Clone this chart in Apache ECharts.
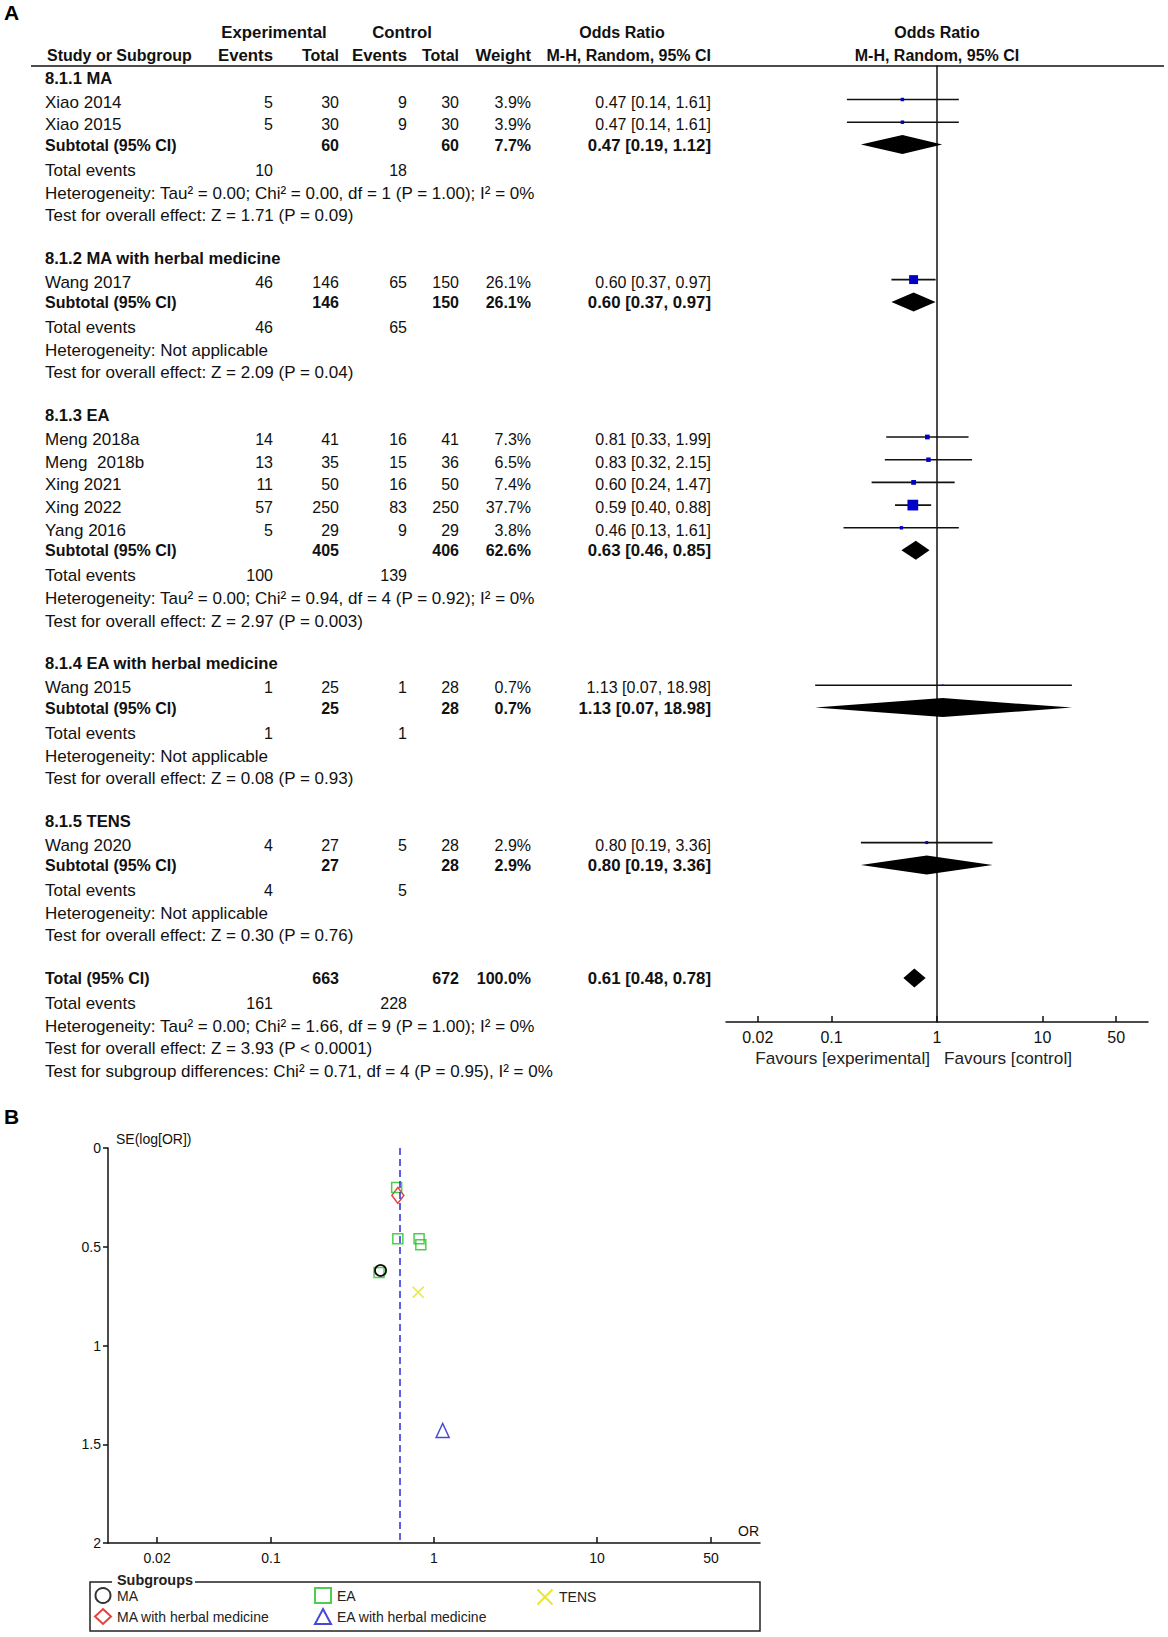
<!DOCTYPE html>
<html>
<head>
<meta charset="utf-8">
<script src="https://cdn.jsdelivr.net/npm/echarts@6/dist/echarts.min.js"></script>
<style>
html, body { margin: 0; padding: 0; background: #fff; }
#main { width: 1168px; height: 1637px; }
</style>
</head>
<body>
<div id="main"></div>
<script>
// ---- studies ----
const studyNames = ['Xiao 2014', 'Xiao 2015', 'Wang 2017', 'Meng 2018a', 'Meng  2018b', 'Xing 2021', 'Xing 2022', 'Yang 2016', 'Wang 2015', 'Wang 2020']
const studyGroup = [0, 0, 1, 2, 2, 2, 2, 2, 3, 4]
const expEvents = [5, 5, 46, 14, 13, 11, 57, 5, 1, 4]
const expTotal = [30, 30, 146, 41, 35, 50, 250, 29, 25, 27]
const ctlEvents = [9, 9, 65, 16, 15, 16, 83, 9, 1, 5]
const ctlTotal = [30, 30, 150, 41, 36, 50, 250, 29, 28, 28]
const studyWeight = [3.9, 3.9, 26.1, 7.3, 6.5, 7.4, 37.7, 3.8, 0.7, 2.9]
const studyOR = [0.47, 0.47, 0.60, 0.81, 0.83, 0.60, 0.59, 0.46, 1.13, 0.80]
const studyLow = [0.14, 0.14, 0.37, 0.33, 0.32, 0.24, 0.40, 0.13, 0.07, 0.19]
const studyHigh = [1.61, 1.61, 0.97, 1.99, 2.15, 1.47, 0.88, 1.61, 18.98, 3.36]
// SE(log[OR])
const studySE = [0.62, 0.62, 0.24, 0.46, 0.49, 0.46, 0.20, 0.63, 1.43, 0.73]

// ---- subgroups ----
const subgroupCodes = ['8.1.1', '8.1.2', '8.1.3', '8.1.4', '8.1.5']
const subgroupNames = ['MA', 'MA with herbal medicine', 'EA', 'EA with herbal medicine', 'TENS']
const subExpTotal = [60, 146, 405, 25, 27]
const subCtlTotal = [60, 150, 406, 28, 28]
const subExpEvents = [10, 46, 100, 1, 4]
const subCtlEvents = [18, 65, 139, 1, 5]
const subWeight = [7.7, 26.1, 62.6, 0.7, 2.9]
const subOR = [0.47, 0.60, 0.63, 1.13, 0.80]
const subLow = [0.19, 0.37, 0.46, 0.07, 0.19]
const subHigh = [1.12, 0.97, 0.85, 18.98, 3.36]
const subHet = [
	'Heterogeneity: Tau\u00b2 = 0.00; Chi\u00b2 = 0.00, df = 1 (P = 1.00); I\u00b2 = 0%',
	'Heterogeneity: Not applicable',
	'Heterogeneity: Tau\u00b2 = 0.00; Chi\u00b2 = 0.94, df = 4 (P = 0.92); I\u00b2 = 0%',
	'Heterogeneity: Not applicable',
	'Heterogeneity: Not applicable',
]
const subTest = [
	'Test for overall effect: Z = 1.71 (P = 0.09)',
	'Test for overall effect: Z = 2.09 (P = 0.04)',
	'Test for overall effect: Z = 2.97 (P = 0.003)',
	'Test for overall effect: Z = 0.08 (P = 0.93)',
	'Test for overall effect: Z = 0.30 (P = 0.76)',
]

// ---- overall ----
const totalExp = 663
const totalCtl = 672
const totalExpEvents = 161
const totalCtlEvents = 228
const totalOR = [0.61, 0.48, 0.78]
const totalNotes = [
	'Heterogeneity: Tau\u00b2 = 0.00; Chi\u00b2 = 1.66, df = 9 (P = 1.00); I\u00b2 = 0%',
	'Test for overall effect: Z = 3.93 (P < 0.0001)',
	'Test for subgroup differences: Chi\u00b2 = 0.71, df = 4 (P = 0.95), I\u00b2 = 0%',
]

// ---- axes ----
const orTicks = [0.02, 0.1, 1, 10, 50]

const subgroupSymbols = ['circle', 'diamond', 'rect', 'triangle', 'path://M0,0L10,10M10,0L0,10']
const subgroupColors = ['#000000', '#dd1111', '#22c022', '#1a1acc', '#e2e200']
const subgroupSizes = [11, [12, 16], 10, [13, 14], 11]

const FONT = '"Liberation Sans", Arial, sans-serif'
const TEXT = '#111'
const lg = v => Math.log10(v)
const fmtCI = (e, l, h) => e.toFixed(2) + ' [' + l.toFixed(2) + ', ' + h.toFixed(2) + ']'

/**
 * 行布局：pos 为每行文字中心的纵向位置（森林图 y 轴刻度）
 * 行距不是完全均匀的，按 RevMan 的排版给出每种行之间的间隔
 */
const STEP = { headStudy: 24, study: 22.7, studySub: 20.4, subEvents: 25.1, eventsNote: 23, note: 22.3, group: 42.6 }
const rows = []
let pos = 78
rows.push({ pos: 32.5, kind: 'hdr1' })
rows.push({ pos: 55.5, kind: 'hdr2' })
subgroupCodes.forEach((code, g) => {
	rows.push({ pos: pos, kind: 'head', label: code + ' ' + subgroupNames[g] })
	pos += STEP.headStudy
	let first = true
	studyGroup.forEach((sg, i) => {
		if (sg !== g) return
		if (!first) pos += STEP.study
		first = false
		rows.push({ pos: pos, kind: 'study', i })
	})
	pos += STEP.studySub
	rows.push({ pos: pos, kind: 'sub', g })
	pos += STEP.subEvents
	rows.push({ pos: pos, kind: 'events', exp: subExpEvents[g], ctl: subCtlEvents[g] })
	pos += STEP.eventsNote
	rows.push({ pos: pos, kind: 'note', label: subHet[g] })
	pos += STEP.note
	rows.push({ pos: pos, kind: 'note', label: subTest[g] })
	pos += STEP.group
})
rows.push({ pos: pos, kind: 'total' })
pos += STEP.subEvents
rows.push({ pos: pos, kind: 'events', exp: totalExpEvents, ctl: totalCtlEvents })
totalNotes.forEach((n, k) => {
	pos += k === 0 ? STEP.eventsNote : STEP.note
	rows.push({ pos: pos, kind: 'note', label: n })
})

// 列位置（右对齐）
const COL = { name: 45, expEv: 273, expTot: 339, ctlEv: 407, ctlTot: 459, weight: 531, or: 711 }

function renderRow(params, api) {
	const r = rows[params.dataIndex]
	const ty = api.coord([0, r.pos])[1]
	const kids = []
	const txt = (s, x, align, font) => kids.push({
		type: 'text',
		style: {
			text: String(s), x: x, y: ty, align: align, verticalAlign: 'middle',
			font: font + ' ' + FONT, fill: TEXT,
		},
	})
	const LBL = '17px', NUM = '16px', BLD = 'bold 16px', BLDW = 'bold 16.8px'
	const ciLine = (lo, hi, y) => {
		const a = api.coord([lg(lo), r.pos])[0]
		const b = api.coord([lg(hi), r.pos])[0]
		kids.push({ type: 'line', shape: { x1: a, y1: y, x2: b, y2: y }, style: { stroke: '#111', lineWidth: 1.6 } })
	}
	const diamond = (e, lo, hi) => {
		const y = ty - 0.5
		const pe = api.coord([lg(e), r.pos])[0]
		const pl = api.coord([lg(lo), r.pos])[0]
		const ph = api.coord([lg(hi), r.pos])[0]
		kids.push({ type: 'polygon', shape: { points: [[pl, y], [pe, y - 9.5], [ph, y], [pe, y + 9.5]] }, style: { fill: '#000' } })
	}
	const zeroX = api.coord([0, r.pos])[0]

	switch (r.kind) {
		case 'hdr1':
			txt('Experimental', 274, 'center', BLDW)
			txt('Control', 402, 'center', BLDW)
			txt('Odds Ratio', 622, 'center', BLD)
			txt('Odds Ratio', zeroX, 'center', BLD)
			break
		case 'hdr2':
			txt('Study or Subgroup', 47, 'left', BLD)
			txt('Events', COL.expEv, 'right', BLDW)
			txt('Total', COL.expTot, 'right', BLD)
			txt('Events', COL.ctlEv, 'right', BLDW)
			txt('Total', COL.ctlTot, 'right', BLD)
			txt('Weight', COL.weight, 'right', BLDW)
			txt('M-H, Random, 95% CI', COL.or, 'right', BLD)
			txt('M-H, Random, 95% CI', zeroX, 'center', BLD)
			break
		case 'head':
			txt(r.label, COL.name, 'left', 'bold 16.6px')
			break
		case 'study': {
			const i = r.i
			txt(studyNames[i], COL.name, 'left', LBL)
			txt(expEvents[i], COL.expEv, 'right', NUM)
			txt(expTotal[i], COL.expTot, 'right', NUM)
			txt(ctlEvents[i], COL.ctlEv, 'right', NUM)
			txt(ctlTotal[i], COL.ctlTot, 'right', NUM)
			txt(studyWeight[i].toFixed(1) + '%', COL.weight, 'right', NUM)
			txt(fmtCI(studyOR[i], studyLow[i], studyHigh[i]), COL.or, 'right', NUM)
			const y = ty - 2.5
			ciLine(studyLow[i], studyHigh[i], y)
			// 方块面积与权重成正比
			const s = Math.max(1.6, 1.75 * Math.sqrt(studyWeight[i]))
			const cx = api.coord([lg(studyOR[i]), r.pos])[0]
			kids.push({ type: 'rect', shape: { x: cx - s / 2, y: y - s / 2, width: s, height: s }, style: { fill: '#0000c8' } })
			break
		}
		case 'sub': {
			const g = r.g
			txt('Subtotal (95% CI)', COL.name, 'left', BLD)
			txt(subExpTotal[g], COL.expTot, 'right', BLD)
			txt(subCtlTotal[g], COL.ctlTot, 'right', BLD)
			txt(subWeight[g].toFixed(1) + '%', COL.weight, 'right', BLD)
			txt(fmtCI(subOR[g], subLow[g], subHigh[g]), COL.or, 'right', BLDW)
			diamond(subOR[g], subLow[g], subHigh[g])
			break
		}
		case 'events':
			txt('Total events', COL.name, 'left', LBL)
			txt(r.exp, COL.expEv, 'right', NUM)
			txt(r.ctl, COL.ctlEv, 'right', NUM)
			break
		case 'note':
			txt(r.label, COL.name, 'left', LBL)
			break
		case 'total':
			txt('Total (95% CI)', COL.name, 'left', BLD)
			txt(totalExp, COL.expTot, 'right', BLD)
			txt(totalCtl, COL.ctlTot, 'right', BLD)
			txt('100.0%', COL.weight, 'right', BLD)
			txt(fmtCI(totalOR[0], totalOR[1], totalOR[2]), COL.or, 'right', BLDW)
			diamond(totalOR[0], totalOR[1], totalOR[2])
			break
	}
	return { type: 'group', children: kids }
}

const chart = echarts.init(document.getElementById('main'), null, { renderer: 'svg' })

const tickLabel = v => String(+Math.pow(10, v).toPrecision(2))
const orTickPos = orTicks.map(lg)

// 漏斗图散点，每个亚组一个系列
const funnelSeries = subgroupNames.map((name, g) => ({
	name: name,
	type: 'scatter',
	xAxisIndex: 1,
	yAxisIndex: 1,
	z: g === 0 ? 4 : 3,
	symbol: subgroupSymbols[g],
	symbolSize: subgroupSizes[g],
	itemStyle: { color: g === 4 ? 'none' : 'rgba(0,0,0,0)', borderColor: subgroupColors[g], borderWidth: 1.5 },
	data: studyGroup.map((sg, i) => sg === g ? [lg(studyOR[i]), studySE[i]] : null).filter(d => d),
	silent: true,
}))
// 合并效应虚线
funnelSeries[2].markLine = {
	silent: true,
	symbol: 'none',
	label: { show: false },
	lineStyle: { color: '#2a2ad8', type: [7, 4], width: 1.5 },
	data: [{ xAxis: lg(totalOR[0]) }],
}

const option = {
	animation: false,
	backgroundColor: '#fff',
	textStyle: { fontFamily: FONT },
	grid: [
		{ left: 726, right: 20, top: 66, bottom: 615 },
		{ left: 108, right: 408, top: 1148, bottom: 94 },
	],
	xAxis: [
		{
			type: 'value', gridIndex: 0, min: -2, max: 2,
			axisLine: { onZero: false, lineStyle: { color: '#111', width: 1.5 } },
			axisTick: { inside: true, length: 6, customValues: orTickPos, lineStyle: { color: '#111', width: 1.5 } },
			axisLabel: { customValues: orTickPos, formatter: tickLabel, color: TEXT, fontSize: 16, margin: 7 },
			splitLine: { show: false },
		},
		{
			type: 'value', gridIndex: 1, min: -2, max: 2,
			name: 'OR', nameLocation: 'end', nameGap: -1,
			nameTextStyle: { color: TEXT, fontSize: 14, align: 'right', verticalAlign: 'bottom', padding: [0, 0, 5, 0] },
			axisLine: { onZero: false, lineStyle: { color: '#111', width: 1.5 } },
			axisTick: { inside: true, length: 6, customValues: orTickPos, lineStyle: { color: '#111', width: 1.5 } },
			axisLabel: { customValues: orTickPos, formatter: tickLabel, color: TEXT, fontSize: 14, margin: 8 },
			splitLine: { show: false },
		},
	],
	yAxis: [
		{
			// 像素式刻度：值即为行文字中心位置
			type: 'value', gridIndex: 0, inverse: true, min: 66, max: 1022,
			axisLine: { show: true, onZero: true, lineStyle: { color: '#111', width: 1.5 } },
			axisTick: { show: false },
			axisLabel: { show: false },
			splitLine: { show: false },
		},
		{
			type: 'value', gridIndex: 1, inverse: true, min: 0, max: 2, interval: 0.5,
			name: 'SE(log[OR])', nameLocation: 'start', nameGap: 2,
			nameTextStyle: { color: TEXT, fontSize: 14, align: 'left', verticalAlign: 'bottom', padding: [0, 0, 0, 8] },
			axisLine: { show: true, onZero: false, lineStyle: { color: '#111', width: 1.5 } },
			axisTick: { show: true, length: 5, lineStyle: { color: '#111', width: 1.5 } },
			axisLabel: { color: TEXT, fontSize: 14, margin: 7 },
			splitLine: { show: false },
		},
	],
	legend: [
		{ left: 94, top: 1587, orient: 'vertical', data: [subgroupNames[0], subgroupNames[1]] },
		{ left: 314, top: 1587, orient: 'vertical', data: [subgroupNames[2], subgroupNames[3]] },
		{ left: 535, top: 1587, orient: 'vertical', data: [subgroupNames[4]] },
	].map(l => Object.assign(l, {
		padding: 0, itemGap: 4, itemWidth: 16, itemHeight: 15, selectedMode: false,
		textStyle: { color: '#222', fontSize: 14, padding: [0, 0, 0, 1] },
	})),
	graphic: [
		{ type: 'text', left: 4, top: 2, style: { text: 'A', font: 'bold 21px ' + FONT, fill: '#000' } },
		{ type: 'text', left: 4, top: 1106, style: { text: 'B', font: 'bold 21px ' + FONT, fill: '#000' } },
		{ type: 'line', shape: { x1: 31, y1: 66, x2: 1164, y2: 66 }, style: { stroke: '#111', lineWidth: 1.5 } },
		{ type: 'text', style: { text: 'Favours [experimental]', x: 930, y: 1058, align: 'right', verticalAlign: 'middle', font: '17.2px ' + FONT, fill: '#222' } },
		{ type: 'text', style: { text: 'Favours [control]', x: 944, y: 1058, align: 'left', verticalAlign: 'middle', font: '17.2px ' + FONT, fill: '#222' } },
		// 图例外框
		{ type: 'rect', shape: { x: 90, y: 1582, width: 670, height: 49 }, style: { fill: 'none', stroke: '#222', lineWidth: 1.5 } },
		{ type: 'rect', shape: { x: 112, y: 1572, width: 83, height: 16 }, style: { fill: '#fff' } },
		{ type: 'text', style: { text: 'Subgroups', x: 117, y: 1580, verticalAlign: 'middle', font: 'bold 14.4px ' + FONT, fill: '#222' } },
	],
	series: [
		{
			type: 'custom',
			xAxisIndex: 0,
			yAxisIndex: 0,
			silent: true,
			clip: false,
			renderItem: renderRow,
			data: rows.map(r => [0, r.pos]),
		},
	].concat(funnelSeries),
}

chart.setOption(option)
</script>
</body>
</html>
